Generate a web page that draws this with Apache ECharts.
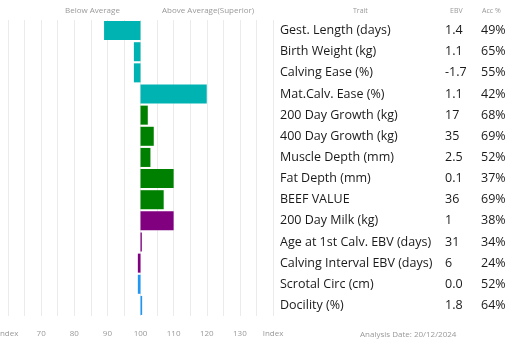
<!DOCTYPE html>
<html><head><meta charset="utf-8">
<script src="https://cdn.jsdelivr.net/npm/echarts@6/dist/echarts.min.js"></script>
<style>html,body{margin:0;padding:0;background:#fff}#c{width:528px;height:348px}</style>
</head><body><div id="c"></div>
<script>
// ---- data ----
const traits = ['Gest. Length (days)','Birth Weight (kg)','Calving Ease (%)','Mat.Calv. Ease (%)','200 Day Growth (kg)','400 Day Growth (kg)','Muscle Depth (mm)','Fat Depth (mm)','BEEF VALUE','200 Day Milk (kg)','Age at 1st Calv. EBV (days)','Calving Interval EBV (days)','Scrotal Circ (cm)','Docility (%)'];
const ebv = ['1.4','1.1','-1.7','1.1','17','35','2.5','0.1','36','1','31','6','0.0','1.8'];
const acc = ['49%','65%','55%','42%','68%','69%','52%','37%','69%','38%','34%','24%','52%','64%'];
const indexValues = [89, 98, 98, 120, 102.2, 104, 103, 110, 107, 110, 100.4, 99.2, 99.2, 100.5];
const groups = ['calving','calving','calving','calving','growth','growth','growth','growth','growth','maternal','maternal','maternal','fertility','fertility'];
const axisTicks = [60, 70, 80, 90, 100, 110, 120, 130, 140];
const baseline = 100;

// ---- styles ----
const groupColors = {calving:'#00B3B3', growth:'#008000', maternal:'#800080', fertility:'#2196F3'};
const FONT = '"Open Sans", sans-serif';

const baseData = indexValues.map(v => Math.min(v, baseline));
const barData = indexValues.map((v, i) => ({
  value: Math.abs(v - baseline),
  itemStyle: {color: groupColors[groups[i]]}
}));

const chart = echarts.init(document.getElementById('c'), null, {renderer: 'canvas'});
chart.setOption({
  animation: false,
  textStyle: {fontFamily: FONT},
  grid: {left: 8, right: 255, top: 20, bottom: 32, containLabel: false, outerBoundsMode: 'none'},
  xAxis: {
    type: 'value', min: axisTicks[0], max: axisTicks[axisTicks.length-1], interval: 5,
    axisLine: {show: false}, axisTick: {show: false},
    splitLine: {show: true, lineStyle: {color: '#ebebeb', width: 1}},
    axisLabel: {
      color: '#999', fontSize: 8, margin: 14, fontFamily: FONT,
      showMinLabel: true, showMaxLabel: true, hideOverlap: false,
      formatter: v => {
        if (v === axisTicks[0] || v === axisTicks[axisTicks.length-1]) return 'Index';
        return axisTicks.indexOf(v) >= 0 ? String(v) : '';
      }
    }
  },
  yAxis: [{
    type: 'category', data: traits, inverse: true,
    axisLine: {show: false}, axisTick: {show: false}, axisLabel: {show: false}, splitLine: {show: false}
  }, {
    type: 'category', data: traits, inverse: true, position: 'right',
    axisLine: {show: false}, axisTick: {show: false}, splitLine: {show: false},
    axisLabel: {
      margin: 7, align: 'left',
      formatter: (v, i) => '{t|' + v + '}{e|' + ebv[i] + '}{a|' + acc[i] + '}',
      rich: {
        t: {width: 165, fontSize: 12.5, color: '#1a1a1a', fontFamily: FONT},
        e: {width: 36, fontSize: 12.5, color: '#1a1a1a', fontFamily: FONT},
        a: {width: 40, fontSize: 12.5, color: '#1a1a1a', fontFamily: FONT}
      }
    }
  }],
  series: [{
    type: 'bar', stack: 'idx', data: baseData, barCategoryGap: '10%',
    itemStyle: {color: 'rgba(0,0,0,0)'}, silent: true
  }, {
    type: 'bar', stack: 'idx', data: barData, barCategoryGap: '10%'
  }],
  graphic: [
    {type: 'text', left: 65, top: 7, style: {text: 'Below Average', fill: '#999', fontSize: 8, fontFamily: FONT}},
    {type: 'text', left: 162, top: 7, style: {text: 'Above Average(Superior)', fill: '#999', fontSize: 8, fontFamily: FONT}},
    {type: 'text', left: 353, top: 7, style: {text: 'Trait', fill: '#999', fontSize: 7, fontFamily: FONT}},
    {type: 'text', left: 450, top: 7, style: {text: 'EBV', fill: '#999', fontSize: 7, fontFamily: FONT}},
    {type: 'text', left: 482, top: 7, style: {text: 'Acc %', fill: '#999', fontSize: 7, fontFamily: FONT}},
    {type: 'text', left: 360, top: 331, style: {text: 'Analysis Date: 20/12/2024', fill: '#999', fontSize: 8, fontFamily: FONT}}
  ]
});
</script></body></html>
